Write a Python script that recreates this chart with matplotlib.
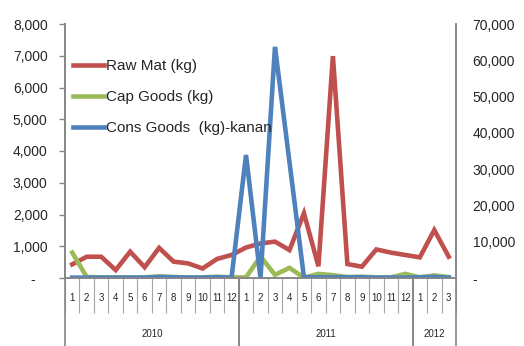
import matplotlib
matplotlib.use("Agg")
import matplotlib.pyplot as plt
import matplotlib.transforms as mtransforms
from matplotlib.ticker import FuncFormatter

plt.rcParams['font.family'] = ['Liberation Sans', 'DejaVu Sans']

years = ['2010', '2011', '2012']
months_per_year = [12, 12, 3]
months = [str(m) for n in months_per_year for m in range(1, n + 1)]

raw_mat = [430, 670, 670, 250, 830, 340, 950, 515, 460, 300, 600, 725,
           960, 1090, 1145, 880, 2040, 370, 6990, 440, 356, 900, 800, 725,
           650, 1510, 670]
cap_goods = [800, 30, 20, 20, 20, 20, 50, 30, 20, 20, 40, 20,
             20, 680, 100, 320, 10, 130, 90, 30, 40, 20, 20, 130,
             20, 80, 30]
cons_goods = [100, 100, 100, 100, 100, 100, 300, 200, 100, 100, 200, 100,
              33900, 0, 63700, 32000, 200, 200, 200, 200, 200, 100, 100, 100,
              200, 300, 100]

RED = '#C0504D'
GREEN = '#9BBB59'
BLUE = '#4F81BD'
GRID = '#868686'
TXT = '#262626'

W, H = 524, 346
fig = plt.figure(figsize=(W / 100, H / 100), dpi=100)
x0, x1, y0, y1 = 65, 456, 24, 278
ax = fig.add_axes([x0 / W, (H - y1) / H, (x1 - x0) / W, (y1 - y0) / H])
ax2 = ax.twinx()

x = list(range(len(months)))
l1, = ax.plot(x, raw_mat, color=RED, lw=3.3, label='Raw Mat (kg)', solid_joinstyle='miter')
l2, = ax.plot(x, cap_goods, color=GREEN, lw=3.3, label='Cap Goods (kg)', solid_joinstyle='miter')
l3, = ax2.plot(x, cons_goods, color=BLUE, lw=3.3, label='Cons Goods  (kg)-kanan', solid_joinstyle='miter')

ax.set_xlim(-0.5, len(months) - 0.5)
ax.set_ylim(0, 8000)
ax.set_yticks(range(0, 8001, 1000))
ax2.set_ylim(0, 70000)
ax2.set_yticks(range(0, 70001, 10000))

fmt = FuncFormatter(lambda v, p: '-   ' if v == 0 else '{:,.0f}'.format(v))
ax.yaxis.set_major_formatter(fmt)
ax2.yaxis.set_major_formatter(fmt)

for a in (ax, ax2):
    a.spines['top'].set_visible(False)
    for s in ('left', 'right', 'bottom'):
        a.spines[s].set_color(GRID)
        a.spines[s].set_linewidth(1.2)
    a.set_facecolor('none')

ax.tick_params(axis='y', length=4.5, width=1, color=GRID, pad=8, labelsize=10, labelcolor=TXT)
ax2.tick_params(axis='y', length=0, pad=12, labelsize=10, labelcolor=TXT)

# month ticks as separators, labels drawn by hand
ax.set_xticks([i - 0.5 for i in range(len(months) + 1)])
ax.set_xticklabels([])
ax.tick_params(axis='x', length=25, width=0.8, color='#A6A6A6', direction='out')

trans = mtransforms.blended_transform_factory(ax.transData, ax.transAxes)
for i, m in enumerate(months):
    ax.text(i, -20 / (y1 - y0), m, transform=trans, ha='center', va='center',
            fontsize=7, color=TXT)

# year groups
start = 0
bottom = -(H - y1) / (y1 - y0)
for yr, n in zip(years, months_per_year):
    ax.text(start + n / 2 - 0.5, -56 / (y1 - y0), yr, transform=trans,
            ha='center', va='center', fontsize=7, color=TXT)
    for b in (start - 0.5, start + n - 0.5):
        ax.plot([b, b], [0, bottom], transform=trans, color=GRID, lw=1.2,
                clip_on=False)
    start += n

leg = ax2.legend(handles=[l1, l2, l3], loc='upper left', frameon=False,
                 bbox_to_anchor=(73 / W, 1 - 59 / H), bbox_transform=fig.transFigure,
                 borderpad=0, borderaxespad=0, handlelength=2.0, handletextpad=0.15,
                 labelspacing=1.12, fontsize=11)
for t in leg.get_texts():
    t.set_color(TXT)

fig.savefig('out.png', dpi=100)
